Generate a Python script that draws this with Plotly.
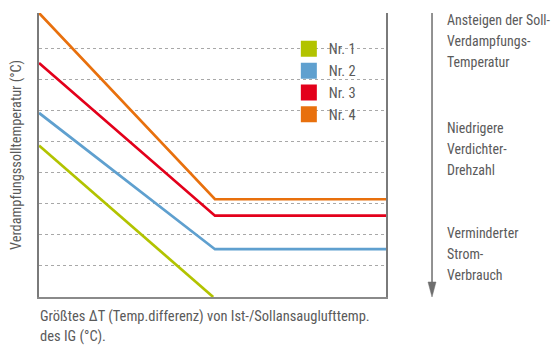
import plotly.graph_objects as go

# ---- data ----
series_names = ["Nr. 1", "Nr. 2", "Nr. 3", "Nr. 4"]
series_colors = ["#b2c300", "#5fa0cf", "#e3001b", "#e8700d"]
x_green = [0, 4.95]
y_green = [4.88, 0]
x_knee = [0, 5.0, 9.86]
y_blue = [5.93, 1.54, 1.54]
y_red = [7.54, 2.62, 2.62]
y_orange = [9.15, 3.15, 3.15]
grid_vals = [1, 2, 3, 4, 5, 6, 7, 8, 9.15]
y_title = "Verdampfungssolltemperatur (°C)"
x_title_lines = ["Größtes ΔT (Temp.differenz) von Ist-/Sollansauglufttemp.", "des IG (°C)."]
side_lines = ["Ansteigen der Soll-", "Verdampfungs-", "Temperatur",
              "Niedrigere", "Verdichter-", "Drehzahl",
              "Verminderter", "Strom-", "Verbrauch"]

FONT = "Liberation Sans Narrow, Roboto Condensed, DejaVu Sans Condensed, Arial, sans-serif"
TXT = "#5a5a5a"
FS = 14.5

fig = go.Figure()
xs = [x_green, x_knee, x_knee, x_knee]
ys = [y_green, y_blue, y_red, y_orange]
for name, col, x, y in zip(series_names, series_colors, xs, ys):
    fig.add_trace(go.Scatter(x=x, y=y, mode="lines", line=dict(color=col, width=2.7),
                             showlegend=False, hoverinfo="skip"))
for i, (name, col) in enumerate(zip(series_names, series_colors)):
    fig.add_trace(go.Scatter(x=[None], y=[None], mode="markers", name=name,
                             marker=dict(symbol="square", size=17, color=col)))

fig.update_xaxes(range=[0, 9.86], showgrid=False, showticklabels=False, ticks="",
                 showline=True, linecolor="#8a8a8a", linewidth=2, zeroline=False, fixedrange=True)
fig.update_yaxes(range=[0, 9.15], tickvals=grid_vals, showticklabels=False, ticks="",
                 showgrid=True, gridcolor="#a8a8a8", gridwidth=1, griddash="dot",
                 showline=True, mirror=True, linecolor="#7a7a7a", linewidth=2, zeroline=False,
                 title=dict(text=y_title, font=dict(size=14.3, color=TXT, family=FONT), standoff=13))

# x-axis title lines (left aligned)
for txt, yp in zip(x_title_lines, [-0.0704, -0.1408]):
    fig.add_annotation(text=txt, xref="paper", yref="paper", x=-0.003, y=yp,
                       xanchor="left", yanchor="middle", showarrow=False,
                       font=dict(size=FS, color=TXT, family=FONT))

# side explanation text
side_y = [0.9754, 0.9014, 0.8275, 0.5951, 0.5211, 0.4472, 0.2254, 0.1514, 0.0775]
for txt, yp in zip(side_lines, side_y):
    fig.add_annotation(text=txt, xref="paper", yref="paper", x=1.170, y=yp,
                       xanchor="left", yanchor="middle", showarrow=False,
                       font=dict(size=13.9, color=TXT, family=FONT))

# arrow
fig.add_shape(type="line", xref="paper", yref="paper", x0=1.1326, x1=1.1326, y0=1.0, y1=0.05,
              line=dict(color="#6e6e6e", width=1.5))
fig.add_shape(type="path", xref="paper", yref="paper",
              path="M 1.1211 0.0528 L 1.1441 0.0528 L 1.1326 0 Z",
              fillcolor="#6e6e6e", line=dict(color="#6e6e6e", width=0.5))

# page body adds an 8px margin, so the figure is 8px smaller on each axis
fig.update_layout(
    width=551, height=338,
    margin=dict(l=31, r=173, t=5, b=49),
    plot_bgcolor="white", paper_bgcolor="white",
    font=dict(family=FONT, color=TXT, size=FS),
    legend=dict(x=0.72, y=0.93, xanchor="left", yanchor="top", bgcolor="rgba(0,0,0,0)",
                font=dict(size=FS, color=TXT, family=FONT), tracegroupgap=0,
                itemsizing="trace"),
)

fig.write_html("out.html")
